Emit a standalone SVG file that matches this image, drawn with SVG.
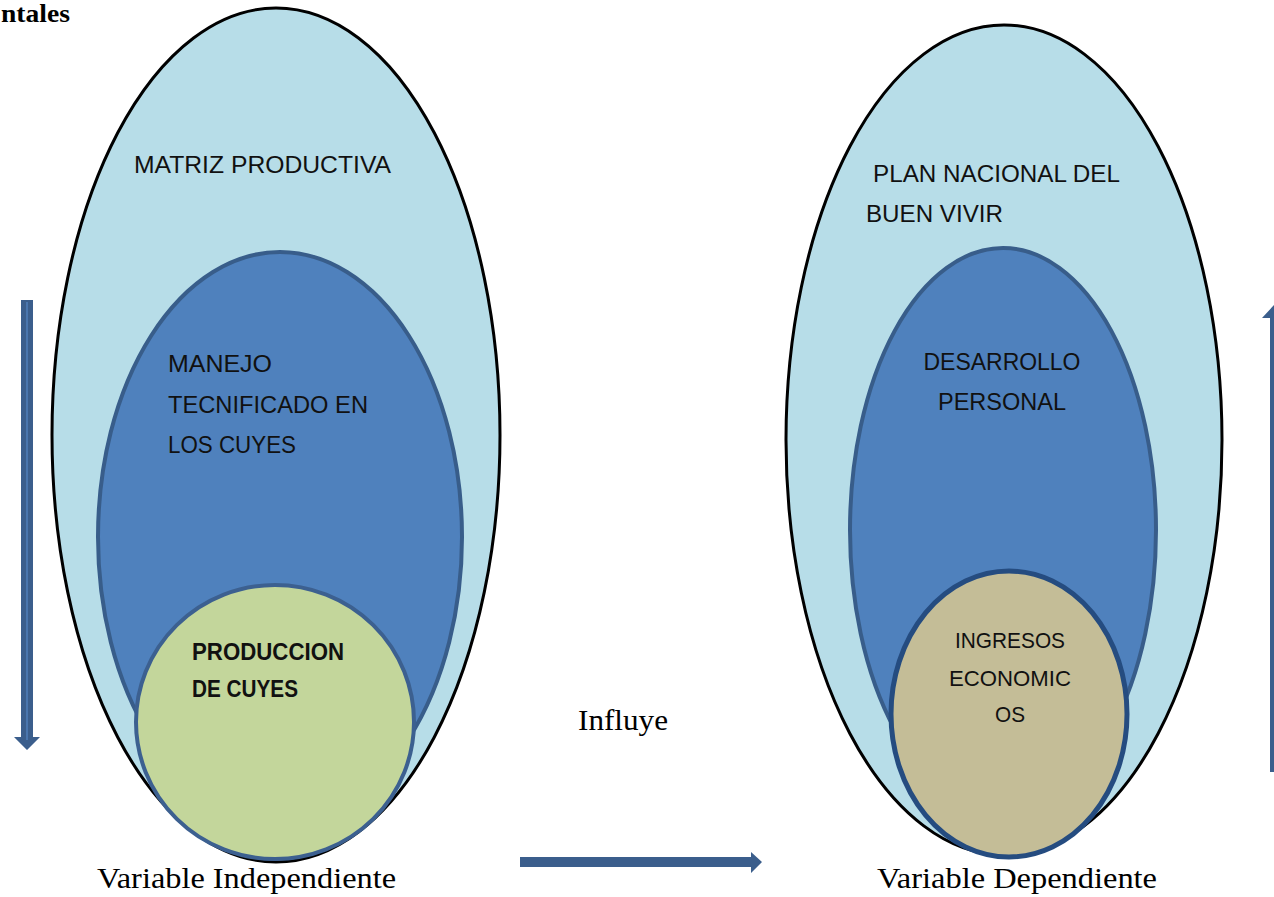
<svg xmlns="http://www.w3.org/2000/svg" width="1274" height="897" viewBox="0 0 1274 897">
<style>
.outer{fill:#B7DDE8;stroke:#000;stroke-width:3}
.mid{fill:#4F81BD;stroke:#385D8A;stroke-width:4}
.green{fill:#C3D69B;stroke:#3C6090;stroke-width:4}
.tan{fill:#C4BD97;stroke:#254C80;stroke-width:5}
.lbl{font-family:"Liberation Sans",Arial,sans-serif;font-size:24px;fill:#111}
.bold{font-weight:bold}
.serif{font-family:"Liberation Serif","Times New Roman",serif;font-size:30px;fill:#000}
.arr{fill:#3B5E8C}
</style>
<text x="1" y="22" class="serif" style="font-weight:bold;font-size:26px" textLength="69" lengthAdjust="spacingAndGlyphs">ntales</text>
<g id="left-outer"><ellipse class="outer" cx="276" cy="435" rx="224" ry="427"/><text class="lbl" x="134" y="173" textLength="257" lengthAdjust="spacingAndGlyphs">MATRIZ PRODUCTIVA</text></g>
<g id="left-mid"><ellipse class="mid" cx="280" cy="537" rx="182" ry="285"/>
<text class="lbl" x="168" y="372" textLength="104" lengthAdjust="spacingAndGlyphs">MANEJO</text>
<text class="lbl" x="168" y="413" textLength="200" lengthAdjust="spacingAndGlyphs">TECNIFICADO EN</text>
<text class="lbl" x="168" y="453" textLength="128" lengthAdjust="spacingAndGlyphs">LOS CUYES</text></g>
<g id="left-inner"><ellipse class="green" cx="275" cy="722" rx="139" ry="137"/>
<text class="lbl bold" x="192" y="660" textLength="152" lengthAdjust="spacingAndGlyphs" style="font-size:23px">PRODUCCION</text>
<text class="lbl bold" x="192" y="697" textLength="106" lengthAdjust="spacingAndGlyphs" style="font-size:23px">DE CUYES</text></g>
<g id="right-outer"><ellipse class="outer" cx="1004" cy="440" rx="218" ry="415"/>
<text class="lbl" x="873" y="182" textLength="247" lengthAdjust="spacingAndGlyphs">PLAN NACIONAL DEL</text>
<text class="lbl" x="866" y="222" textLength="137" lengthAdjust="spacingAndGlyphs">BUEN VIVIR</text></g>
<g id="right-mid"><ellipse class="mid" cx="1003" cy="530" rx="153" ry="282"/>
<text class="lbl" x="1002" y="370" text-anchor="middle" textLength="157" lengthAdjust="spacingAndGlyphs">DESARROLLO</text>
<text class="lbl" x="1002" y="410" text-anchor="middle" textLength="128" lengthAdjust="spacingAndGlyphs">PERSONAL</text></g>
<g id="right-inner"><ellipse class="tan" cx="1009" cy="714" rx="118" ry="143"/>
<text class="lbl" x="1010" y="648" text-anchor="middle" textLength="110" lengthAdjust="spacingAndGlyphs" style="font-size:22px">INGRESOS</text>
<text class="lbl" x="1010" y="686" text-anchor="middle" textLength="122" lengthAdjust="spacingAndGlyphs" style="font-size:22px">ECONOMIC</text>
<text class="lbl" x="1010" y="722" text-anchor="middle" textLength="30" lengthAdjust="spacingAndGlyphs" style="font-size:22px">OS</text></g>
<g id="connectors">
<path class="arr" d="M21 300H33V737H40L27 750L14 737H21Z"/>
<line x1="27" y1="302" x2="27" y2="740" stroke="#4A76AE" stroke-width="2"/>
<path class="arr" d="M1270 318H1262L1274 305V772H1270Z"/>
<path class="arr" d="M520 857H751V852L762 862L751 873V867H520Z"/>
</g>
<text class="serif" x="578" y="730" textLength="90" lengthAdjust="spacingAndGlyphs">Influye</text>
<text class="serif" x="97" y="888" textLength="299" lengthAdjust="spacingAndGlyphs">Variable Independiente</text>
<text class="serif" x="877" y="888" textLength="280" lengthAdjust="spacingAndGlyphs">Variable Dependiente</text>
</svg>
